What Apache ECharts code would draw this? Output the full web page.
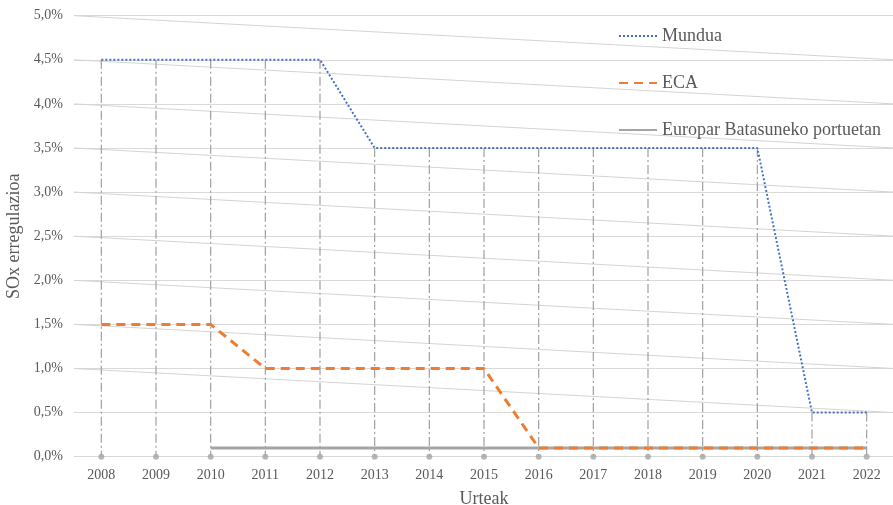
<!DOCTYPE html>
<html>
<head>
<meta charset="utf-8">
<script src="https://cdn.jsdelivr.net/npm/echarts@6/dist/echarts.min.js"></script>
<style>
html,body{margin:0;padding:0;background:#fff;overflow:hidden;}
#chart{width:893px;height:505px;}
</style>
</head>
<body>
<div id="chart"></div>
<script>
// ---- data ----
var years = ['2008','2009','2010','2011','2012','2013','2014','2015','2016','2017','2018','2019','2020','2021','2022'];
var mundua = [4.5,4.5,4.5,4.5,4.5,3.5,3.5,3.5,3.5,3.5,3.5,3.5,3.5,0.5,0.5];
var eca = [1.5,1.5,1.5,1.0,1.0,1.0,1.0,1.0,0.1,0.1,0.1,0.1,0.1,0.1,0.1];
var eb = [null,null,0.1,0.1,0.1,0.1,0.1,0.1,0.1,0.1,0.1,0.1,0.1,0.1,0.1];
var baseline = [0,0,0,0,0,0,0,0,0,0,0,0,0,0,0];
// slanted background lines (start value at left edge, end value at right edge)
var slantStart = [5.0,4.5,4.0,3.5,3.0,2.5,2.0,1.5,1.0];
var slantEnd   = [4.5,4.0,3.5,3.0,2.5,2.0,1.5,1.0,0.5];

var serif = '"Liberation Serif","DejaVu Serif",serif';
var txt = '#595959';

var chart = echarts.init(document.getElementById('chart'), null, {renderer:'canvas', width:893, height:505});

var series = [];
slantStart.forEach(function(v, i){
  series.push({
    type:'line', xAxisIndex:1, yAxisIndex:0, silent:true, symbol:'none',
    data:[[0, v],[1, slantEnd[i]]],
    lineStyle:{color:'#d4d4d4', width:1}, z:1, animation:false
  });
});
series.push({
  name:'drop', type:'custom', xAxisIndex:0, silent:true, z:2, animation:false,
  data: mundua.map(function(v,i){return [i, v];}),
  renderItem:function(params, api){
    var p1 = api.coord([api.value(0), api.value(1)]);
    var p2 = api.coord([api.value(0), 0]);
    return {type:'line', shape:{x1:p1[0],y1:p1[1],x2:p2[0],y2:p2[1]},
      style:{stroke:'#a0a0a0', lineWidth:1.2, lineDash:[9,3,2,3]}};
  }
});
series.push({
  name:'base', type:'scatter', xAxisIndex:0, data:baseline, symbol:'circle', symbolSize:6,
  itemStyle:{color:'#a6a6a6'}, silent:true, z:3, animation:false
});
series.push({
  name:'Europar Batasuneko portuetan', type:'line', data:eb, symbol:'none', showSymbol:false,
  lineStyle:{color:'#a5a5a5', width:3, type:'solid'}, itemStyle:{color:'#a5a5a5'}, z:4, animation:false
});
series.push({
  name:'ECA', type:'line', data:eca, symbol:'none', showSymbol:false,
  lineStyle:{color:'#ED7D31', width:3, type:[9,6]}, itemStyle:{color:'#ED7D31'}, z:5, animation:false
});
series.push({
  name:'Mundua', type:'line', data:mundua, symbol:'none', showSymbol:false,
  lineStyle:{color:'#4472C4', width:2, type:[2,2]}, itemStyle:{color:'#4472C4'}, z:6, animation:false
});

chart.setOption({
  backgroundColor:'#fff',
  animation:false,
  grid:{left:74, top:15.7, width:820, height:441, containLabel:false, outerBoundsMode:'none'},
  legend:{
    data:['Mundua','ECA','Europar Batasuneko portuetan'],
    orient:'vertical', left:613, top:22, itemGap:29, itemWidth:38, itemHeight:14,
    itemStyle:{opacity:0},
    textStyle:{fontFamily:serif, fontSize:18, color:txt},
    selectedMode:false
  },
  xAxis:[{
    type:'category', data:years, boundaryGap:true,
    name:'Urteak', nameLocation:'middle', nameGap:34,
    nameTextStyle:{fontFamily:serif, fontSize:18, color:txt},
    axisLine:{show:false}, axisTick:{show:false},
    axisLabel:{fontFamily:serif, fontSize:14, color:txt, margin:12},
    splitLine:{show:false}
  },{
    type:'value', min:0, max:1, show:false, gridIndex:0
  }],
  yAxis:{
    type:'value', min:0, max:5, interval:0.5,
    name:'SOx erregulazioa', nameLocation:'middle', nameGap:51, nameRotate:90,
    nameTextStyle:{fontFamily:serif, fontSize:18, color:txt},
    axisLine:{show:false}, axisTick:{show:false},
    axisLabel:{fontFamily:serif, fontSize:14, color:txt, margin:11,
      formatter:function(v){return v.toFixed(1).replace('.',',')+'%';}},
    splitLine:{lineStyle:{color:'#d9d9d9', width:1}}
  },
  series:series
});
</script>
</body>
</html>
